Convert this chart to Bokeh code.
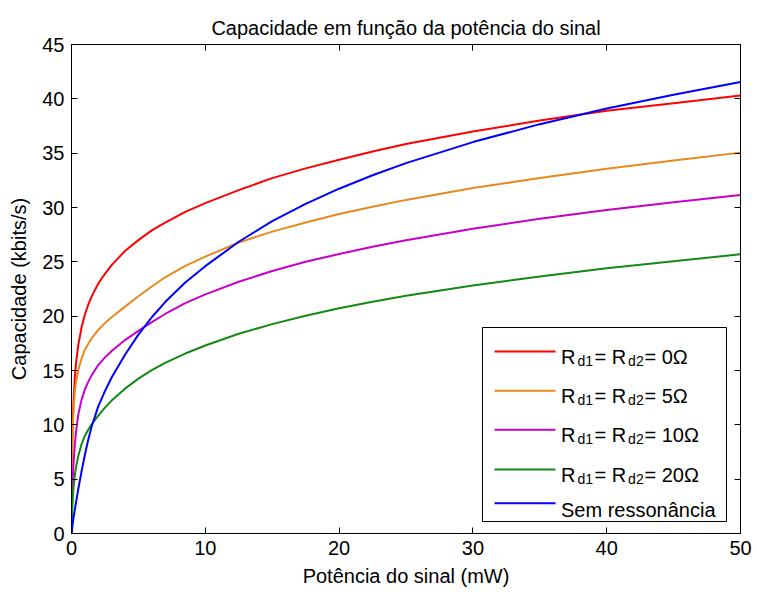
from bokeh.plotting import figure
from bokeh.models import Range1d, LinearAxis, FixedTicker, BoxAnnotation, Label, ColumnDataSource
from bokeh.embed import file_html
from bokeh.resources import INLINE

# ---- data ----
potencia = [0, 0.02, 0.05, 0.1, 0.15, 0.25, 0.35, 0.5, 0.75, 1, 1.25, 1.5, 2, 2.5, 3, 4, 5, 6, 7, 8.5,
            10, 12.5, 15, 17.5, 20, 22.5, 25, 30, 35, 40, 45, 50]
cap_rd0 = [0, 5.0, 8.0, 10.3, 12.1, 14.4, 15.8, 17.3, 18.95, 20.15, 21.05, 21.8, 23.0, 23.9, 24.7, 26.0,
           27.0, 27.9, 28.6, 29.6, 30.4, 31.6, 32.7, 33.6, 34.4, 35.15, 35.85, 37.0, 38.0, 38.9, 39.6, 40.3]
cap_rd5 = [0, 4.2, 7.0, 9.9, 11.3, 13.1, 14.0, 15.0, 16.1, 16.9, 17.45, 17.95, 18.73, 19.36, 19.9, 20.88,
           21.83, 22.73, 23.58, 24.63, 25.48, 26.78, 27.78, 28.62, 29.4, 30.06, 30.7, 31.8, 32.72, 33.56, 34.32, 35.05]
cap_rd10 = [0, 1.8, 3.5, 5.2, 6.4, 8.2, 9.5, 10.9, 12.3, 13.25, 13.95, 14.55, 15.5, 16.2, 16.8, 17.8,
            18.65, 19.45, 20.2, 21.2, 22.0, 23.17, 24.15, 25.0, 25.72, 26.38, 26.98, 28.04, 28.96, 29.77, 30.49, 31.14]
cap_rd20 = [0, 0.9, 2.0, 3.3, 4.2, 5.4, 6.2, 7.1, 8.2, 9.0, 9.55, 10.05, 10.85, 11.58, 12.23, 13.33,
            14.25, 15.03, 15.71, 16.56, 17.3, 18.38, 19.27, 20.04, 20.72, 21.32, 21.87, 22.83, 23.66, 24.4, 25.06, 25.7]
cap_sem = [0, 0.2, 0.5, 1.0, 1.45, 2.2, 2.95, 4.05, 5.7, 7.25, 8.62, 9.82, 11.7, 13.1, 14.35, 16.45,
           18.3, 19.9, 21.3, 23.1, 24.6, 26.85, 28.74, 30.34, 31.73, 32.97, 34.08, 36.02, 37.67, 39.11, 40.38, 41.55]

x_ticks = [0, 10, 20, 30, 40, 50]
y_ticks = [0, 5, 10, 15, 20, 25, 30, 35, 40, 45]

rd_values = ["0\u03a9", "5\u03a9", "10\u03a9", "20\u03a9"]
sem_label = "Sem ressonância"
colors = ["#FF0000", "#E8891C", "#C800C8", "#138A13", "#0000FF"]

FONT = "Liberation Sans"

p = figure(width=755, height=590, output_backend="svg", toolbar_location=None,
           x_range=Range1d(0, 50), y_range=Range1d(0, 45),
           min_border_left=71, min_border_right=15, min_border_top=44, min_border_bottom=57,
           title="Capacidade em função da potência do sinal")

p.title.align = "center"
p.title.text_font = FONT
p.title.text_font_size = "20px"
p.title.text_font_style = "normal"
p.title.text_color = "black"
p.title.vertical_align = "middle"

p.grid.visible = False
p.outline_line_color = "black"
p.outline_line_width = 1
p.background_fill_color = "white"
p.border_fill_color = "white"

def style_axis(ax, ticks, labels=True):
    ax.ticker = FixedTicker(ticks=ticks)
    ax.major_tick_in = 6
    ax.major_tick_out = 0
    ax.minor_tick_line_color = None
    ax.axis_line_color = "black"
    ax.major_tick_line_color = "black"
    ax.major_label_text_font = FONT
    ax.major_label_text_color = "black"
    if labels:
        ax.major_label_text_font_size = "20px"
    else:
        ax.major_label_text_font_size = "0px"
        ax.major_label_overrides = {t: "" for t in ticks}
        ax.major_label_standoff = 0

style_axis(p.xaxis[0], x_ticks)
style_axis(p.yaxis[0], y_ticks)
p.xaxis[0].major_label_standoff = 7
p.yaxis[0].major_label_standoff = 7
p.xaxis[0].axis_label = "Potência do sinal (mW)"
p.yaxis[0].axis_label = "Capacidade (kbits/s)"
for ax in (p.xaxis[0], p.yaxis[0]):
    ax.axis_label_text_font = FONT
    ax.axis_label_text_font_size = "20px"
    ax.axis_label_text_font_style = "normal"
    ax.axis_label_text_color = "black"
p.xaxis[0].axis_label_standoff = 7
p.yaxis[0].axis_label_standoff = 9

ax_r = LinearAxis()
style_axis(ax_r, y_ticks, labels=False)
p.add_layout(ax_r, "right")
ax_t = LinearAxis()
style_axis(ax_t, x_ticks, labels=False)
p.add_layout(ax_t, "above")

series = [cap_rd0, cap_rd5, cap_rd10, cap_rd20, cap_sem]
for vals, c in zip(series, colors):
    src = ColumnDataSource(dict(x=potencia, y=vals))
    p.line("x", "y", source=src, line_color=c, line_width=2)

# ---- legend (built by hand for the subscripts) ----
FL, FR, FT, FB = 71, 740, 44, 533
def dx(px):
    return (px - FL) / (FR - FL) * 50
def dy(py):
    return (FB - py) / (FB - FT) * 45

p.add_layout(BoxAnnotation(left=dx(482), right=dx(726), top=dy(327), bottom=dy(521),
                           fill_color="white", fill_alpha=1, line_color="black",
                           line_width=1, line_alpha=1))

line_ys = [351, 390.3, 429.3, 469, 502.7]
for i, ly in enumerate(line_ys):
    p.add_layout(BoxAnnotation(left=dx(494), right=dx(555), bottom=dy(ly + 1), top=dy(ly - 1),
                               fill_color=colors[i], fill_alpha=1, line_color=None))

def lab(x, y, text, size):
    p.add_layout(Label(x=dx(x), y=dy(y), text=text, text_font=FONT, text_font_size=size,
                       text_color="black", text_baseline="alphabetic", text_align="left"))

for i, v in enumerate(rd_values):
    ly = line_ys[i]
    lab(560.5, ly + 5.5, "R", "20px")
    lab(577, ly + 9.5, "d1", "14px")
    lab(594, ly + 5.5, "= R", "20px")
    lab(627.6, ly + 9.5, "d2", "14px")
    lab(644, ly + 5.5, "= " + v, "20px")
lab(560.5, line_ys[4] + 7, sem_label, "20px")

open("out.html", "w").write(file_html(p, INLINE))
